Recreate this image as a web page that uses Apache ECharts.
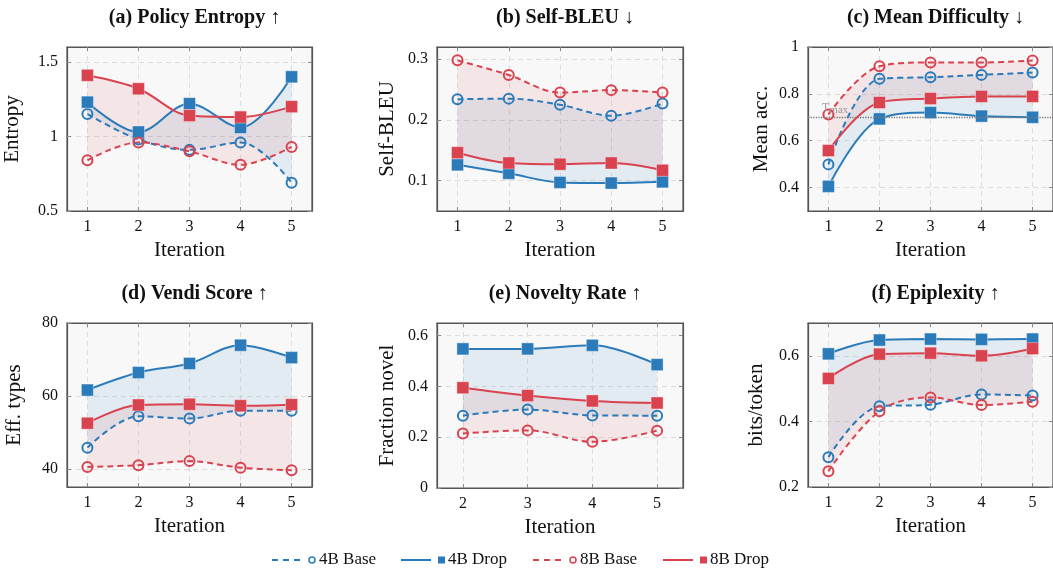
<!DOCTYPE html>
<html><head><meta charset="utf-8">
<script src="https://cdn.jsdelivr.net/npm/echarts@6/dist/echarts.min.js"></script>
<style>html,body{margin:0;padding:0;background:#fff}#c{width:1053px;height:571px}</style>
</head><body><div id="c"></div>
<script>
// ---------------- data ----------------
const seriesNames = ['4B Base', '4B Drop', '8B Base', '8B Drop'];
const iterations = [1, 2, 3, 4, 5];
const noveltyIterations = [2, 3, 4, 5];

const entropy4BBase = [1.15, 0.98, 0.91, 0.96, 0.69];
const entropy4BDrop = [1.23, 1.03, 1.22, 1.06, 1.40];
const entropy8BBase = [0.84, 0.96, 0.90, 0.81, 0.93];
const entropy8BDrop = [1.41, 1.32, 1.14, 1.13, 1.20];

const selfBleu4BBase = [0.234, 0.235, 0.225, 0.207, 0.227];
const selfBleu4BDrop = [0.126, 0.112, 0.097, 0.096, 0.098];
const selfBleu8BBase = [0.298, 0.274, 0.245, 0.249, 0.245];
const selfBleu8BDrop = [0.146, 0.129, 0.127, 0.129, 0.117];

const difficulty4BBase = [0.499, 0.864, 0.871, 0.881, 0.891];
const difficulty4BDrop = [0.405, 0.693, 0.720, 0.705, 0.700];
const difficulty8BBase = [0.712, 0.918, 0.934, 0.934, 0.942];
const difficulty8BDrop = [0.558, 0.763, 0.780, 0.789, 0.789];
const difficultyTmax = 0.7;

const vendi4BBase = [45.8, 54.4, 53.8, 55.9, 55.9];
const vendi4BDrop = [61.6, 66.4, 68.9, 73.9, 70.5];
const vendi8BBase = [40.5, 41.0, 42.1, 40.3, 39.6];
const vendi8BDrop = [52.5, 57.5, 57.7, 57.3, 57.6];

const novelty4BBase = [0.285, 0.309, 0.286, 0.285];
const novelty4BDrop = [0.548, 0.548, 0.562, 0.486];
const novelty8BBase = [0.215, 0.227, 0.182, 0.226];
const novelty8BDrop = [0.395, 0.364, 0.343, 0.335];

const epi4BBase = [0.291, 0.446, 0.451, 0.482, 0.479];
const epi4BDrop = [0.606, 0.648, 0.651, 0.650, 0.651];
const epi8BBase = [0.248, 0.431, 0.473, 0.450, 0.460];
const epi8BDrop = [0.531, 0.605, 0.608, 0.600, 0.622];

const panelTitles = ['(a) Policy Entropy ↑', '(b) Self-BLEU ↓', '(c) Mean Difficulty ↓',
                     '(d) Vendi Score ↑', '(e) Novelty Rate ↑', '(f) Epiplexity ↑'];
const yNames = ['Entropy', 'Self-BLEU', 'Mean acc.', 'Eff. types', 'Fraction novel', 'bits/token'];
const xName = 'Iteration';
const yTickValues = [[0.5, 1, 1.5], [0.1, 0.2, 0.3], [0.4, 0.6, 0.8, 1], [40, 60, 80], [0, 0.2, 0.4, 0.6], [0.2, 0.4, 0.6]];
const yRanges = [[0.5, 1.6], [0.05, 0.32], [0.3, 1.0], [35, 80], [0, 0.65], [0.2, 0.7]];

// ---------------- style / layout ----------------
const FONT = "'Liberation Serif','DejaVu Serif',serif";
const BLUE = '#2b7bba', RED = '#d9434f';
const BLUE_FILL = 'rgba(43,123,186,0.10)', RED_FILL = 'rgba(217,67,79,0.10)';
const SMOOTH = 0.35;
const grids = [
  {left: 67, top: 47, width: 245, height: 164},
  {left: 437, top: 47, width: 246, height: 164},
  {left: 808, top: 47, width: 245, height: 164},
  {left: 67, top: 323, width: 245, height: 164},
  {left: 437, top: 323, width: 246, height: 165},
  {left: 808, top: 323, width: 245, height: 164}
];
const yNameGaps = [44, 39, 36, 42, 39, 41];

const panels = [
  {xs: iterations, s: [entropy4BBase, entropy4BDrop, entropy8BBase, entropy8BDrop]},
  {xs: iterations, s: [selfBleu4BBase, selfBleu4BDrop, selfBleu8BBase, selfBleu8BDrop]},
  {xs: iterations, s: [difficulty4BBase, difficulty4BDrop, difficulty8BBase, difficulty8BDrop]},
  {xs: iterations, s: [vendi4BBase, vendi4BDrop, vendi8BBase, vendi8BDrop]},
  {xs: noveltyIterations, s: [novelty4BBase, novelty4BDrop, novelty8BBase, novelty8BDrop]},
  {xs: iterations, s: [epi4BBase, epi4BDrop, epi8BBase, epi8BDrop]}
];

// ECharts-like smoothing, sampled into points (so fills follow the smoothed lines)
function sampleSmooth(pts, smooth, steps) {
  const out = [[pts[0][0], pts[0][1]]];
  let cpx0 = pts[0][0], cpy0 = pts[0][1], prevX = pts[0][0], prevY = pts[0][1];
  for (let k = 1; k < pts.length; k++) {
    const x = pts[k][0], y = pts[k][1];
    let cpx1, cpy1, nextCpx0, nextCpy0;
    if (k + 1 >= pts.length) { cpx1 = x; cpy1 = y; }
    else {
      const nextX = pts[k + 1][0], nextY = pts[k + 1][1];
      let vx = nextX - prevX, vy = nextY - prevY;
      const lenPrev = Math.hypot(x - prevX, y - prevY), lenNext = Math.hypot(nextX - x, nextY - y);
      const ratio = lenNext / (lenNext + lenPrev);
      nextCpx0 = x + vx * smooth * ratio; nextCpy0 = y + vy * smooth * ratio;
      nextCpx0 = Math.min(nextCpx0, Math.max(nextX, x)); nextCpy0 = Math.min(nextCpy0, Math.max(nextY, y));
      nextCpx0 = Math.max(nextCpx0, Math.min(nextX, x)); nextCpy0 = Math.max(nextCpy0, Math.min(nextY, y));
      vx = nextCpx0 - x; vy = nextCpy0 - y;
      cpx1 = x - vx * lenPrev / lenNext; cpy1 = y - vy * lenPrev / lenNext;
      cpx1 = Math.min(cpx1, Math.max(prevX, x)); cpy1 = Math.min(cpy1, Math.max(prevY, y));
      cpx1 = Math.max(cpx1, Math.min(prevX, x)); cpy1 = Math.max(cpy1, Math.min(prevY, y));
      vx = x - cpx1; vy = y - cpy1;
      nextCpx0 = x + vx * lenNext / lenPrev; nextCpy0 = y + vy * lenNext / lenPrev;
    }
    for (let i = 1; i <= steps; i++) {
      const t = i / steps, u = 1 - t;
      const bx = u*u*u*prevX + 3*u*u*t*cpx0 + 3*u*t*t*cpx1 + t*t*t*x;
      const by = u*u*u*prevY + 3*u*u*t*cpy0 + 3*u*t*t*cpy1 + t*t*t*y;
      out.push([bx, by]);
    }
    cpx0 = nextCpx0; cpy0 = nextCpy0; prevX = x; prevY = y;
  }
  return out;
}

function bandSeries(gi, xs, lower, upper, color) {
  return {
    type: 'custom', xAxisIndex: gi * 2, yAxisIndex: gi * 2, silent: true, z: 1,
    data: xs.map((x, i) => [x, lower[i], upper[i]]),
    encode: {x: 0, y: [1, 2]},
    renderItem: function (params, api) {
      if (params.dataIndex !== 0) return null;
      const up = xs.map((x, i) => api.coord([x, upper[i]]));
      const lo = xs.map((x, i) => api.coord([x, lower[i]]));
      const pts = sampleSmooth(up, SMOOTH, 16).concat(sampleSmooth(lo, SMOOTH, 16).reverse());
      return {type: 'polygon', shape: {points: pts}, style: {fill: color, stroke: null}};
    }
  };
}

function lineSeries(gi, xs, vals, idx) {
  const color = idx < 2 ? BLUE : RED;
  const base = idx % 2 === 0;
  return {
    type: 'line', name: seriesNames[idx], xAxisIndex: gi * 2, yAxisIndex: gi * 2, z: 3,
    data: xs.map((x, i) => [x, vals[i]]),
    smooth: SMOOTH, showSymbol: true,
    symbol: base ? 'circle' : 'rect', symbolSize: base ? 10 : 12,
    lineStyle: {color: color, width: 2, type: base ? [6, 4] : 'solid'},
    itemStyle: base ? {color: 'rgba(255,255,255,0)', borderColor: color, borderWidth: 2}
                    : {color: color, borderColor: 'rgba(255,255,255,0.35)', borderWidth: 1},
    emphasis: {disabled: true}
  };
}

const xAxes = [], yAxes = [], series = [], titles = [];
panels.forEach((p, gi) => {
  const g = grids[gi];
  const xMin = p.xs[0] - 0.4, xMax = p.xs[p.xs.length - 1] + 0.4;
  const tickStyle = {inside: true, length: 4, customValues: p.xs, lineStyle: {color: '#888', width: 1}};
  const lineStyleAx = {show: true, onZero: false, lineStyle: {color: '#555', width: 1.2}};
  xAxes.push({
    gridIndex: gi, type: 'value', min: xMin, max: xMax, position: 'bottom',
    name: xName, nameLocation: 'middle', nameGap: 29,
    nameTextStyle: {fontFamily: FONT, fontSize: 21, color: '#111'},
    axisLine: lineStyleAx, axisTick: tickStyle,
    axisLabel: {customValues: p.xs, fontFamily: FONT, fontSize: 16, color: '#111', margin: 8},
    splitLine: {show: true, lineStyle: {type: [5, 4], color: '#dcdcdc', width: 1}}
  });
  xAxes.push({
    gridIndex: gi, type: 'value', min: xMin, max: xMax, position: 'top',
    axisLine: lineStyleAx, axisTick: tickStyle, axisLabel: {show: false}, splitLine: {show: false}
  });
  const yt = yTickValues[gi];
  const yTick = {inside: true, length: 4, customValues: yt, lineStyle: {color: '#888', width: 1}};
  yAxes.push({
    gridIndex: gi, type: 'value', min: yRanges[gi][0], max: yRanges[gi][1], position: 'left',
    name: yNames[gi], nameLocation: 'middle', nameGap: yNameGaps[gi],
    nameTextStyle: {fontFamily: FONT, fontSize: 21, color: '#111'},
    axisLine: lineStyleAx, axisTick: yTick,
    axisLabel: {customValues: yt, fontFamily: FONT, fontSize: 16, color: '#111', margin: 9},
    splitLine: {show: true, lineStyle: {type: [5, 4], color: '#dcdcdc', width: 1}}
  });
  yAxes.push({
    gridIndex: gi, type: 'value', min: yRanges[gi][0], max: yRanges[gi][1], position: 'right',
    axisLine: lineStyleAx, axisTick: yTick, axisLabel: {show: false}, splitLine: {show: false}
  });
  series.push(bandSeries(gi, p.xs, p.s[0], p.s[1], BLUE_FILL));
  series.push(bandSeries(gi, p.xs, p.s[2], p.s[3], RED_FILL));
  p.s.forEach((vals, idx) => series.push(lineSeries(gi, p.xs, vals, idx)));
  titles.push({
    text: panelTitles[gi], left: g.left + g.width / 2, top: g.top - 44, textAlign: 'center',
    textStyle: {fontFamily: FONT, fontSize: 20, fontWeight: 'bold', color: '#111'}
  });
});

// T_max reference line in panel (c)
series.push({
  type: 'line', xAxisIndex: 4, yAxisIndex: 4, data: [], z: 2, silent: true,
  markLine: {
    silent: true, symbol: ['none', 'none'], animation: false,
    lineStyle: {type: 'dotted', color: '#777', width: 1.3},
    label: {show: true, position: 'insideStartTop', distance: [14, 2],
      formatter: '{t|T}{s|max}',
      rich: {t: {fontFamily: FONT, fontSize: 12, color: '#999'},
             s: {fontFamily: FONT, fontSize: 11, color: '#999', padding: [4, 0, 0, 0]}}},
    data: [{yAxis: difficultyTmax}]
  }
});

// legend drawn with graphic elements
const legendY = 560;
const legendX = [272, 401, 533, 663];
const graphic = [];
seriesNames.forEach((name, i) => {
  const color = i < 2 ? BLUE : RED;
  const base = i % 2 === 0;
  const x0 = legendX[i];
  graphic.push({type: 'line', shape: {x1: x0, y1: legendY, x2: x0 + 30, y2: legendY},
    style: {stroke: color, lineWidth: 2, lineDash: base ? [6, 5] : null}});
  if (base) {
    graphic.push({type: 'circle', shape: {cx: x0 + 40, cy: legendY, r: 3},
      style: {fill: '#fff', stroke: color, lineWidth: 1.5}});
  } else {
    graphic.push({type: 'rect', shape: {x: x0 + 37, y: legendY - 3.5, width: 7, height: 7},
      style: {fill: color}});
  }
  graphic.push({type: 'text', x: x0 + 47, y: legendY,
    style: {text: name, font: '17px ' + FONT, fill: '#111', verticalAlign: 'middle'}});
});

const chart = echarts.init(document.getElementById('c'), null, {renderer: 'canvas'});
chart.setOption({
  animation: false,
  backgroundColor: '#fff',
  textStyle: {fontFamily: FONT},
  title: titles,
  grid: grids.map(g => Object.assign({show: true, backgroundColor: '#f8f8f8', borderColor: '#555', borderWidth: 1.2}, g)),
  xAxis: xAxes,
  yAxis: yAxes,
  series: series,
  graphic: graphic
});
</script>
</body></html>
